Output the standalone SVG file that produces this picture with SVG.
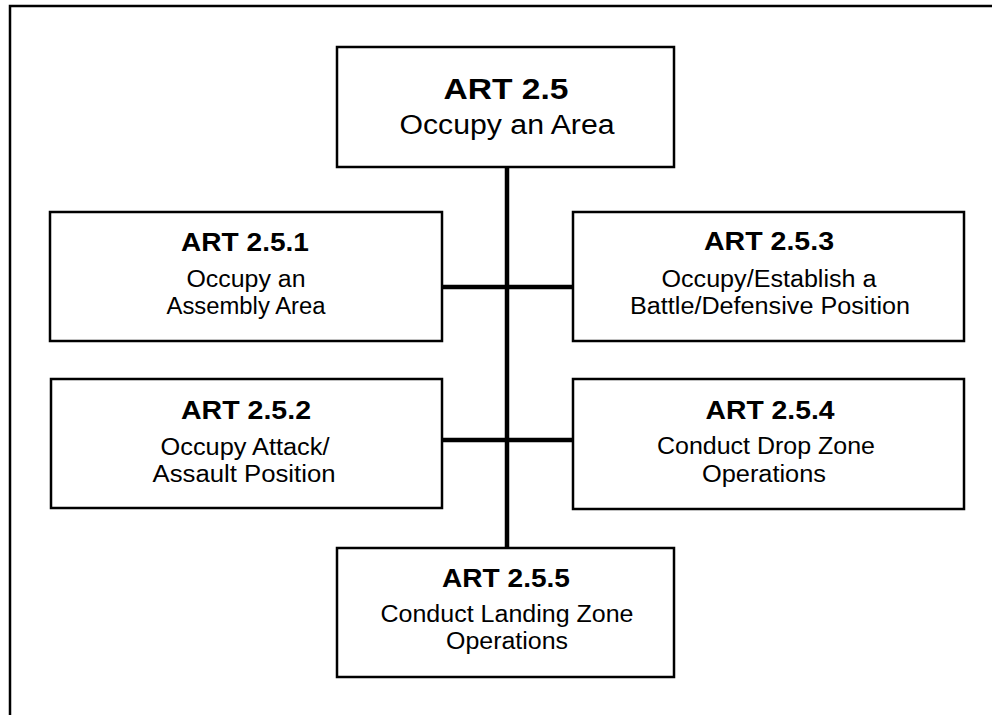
<svg xmlns="http://www.w3.org/2000/svg" width="992" height="715" viewBox="0 0 992 715">
<style>
  .box { fill: #ffffff; stroke: #000000; stroke-width: 2.5; }
  .frame { fill: none; stroke: #000000; stroke-width: 2.5; }
  .conn { fill: none; stroke: #000000; stroke-width: 4.5; }
  text { font-family: "Liberation Sans", Arial, Helvetica, sans-serif; fill: #000000; text-anchor: middle; }
  .t { font-weight: bold; font-size: 25px; }
  .b { font-size: 23px; }
  .tt { font-weight: bold; font-size: 30px; }
  .tb { font-size: 27px; }
</style>
<rect x="0" y="0" width="992" height="715" fill="#ffffff"/>
<path class="frame" d="M10,715 V6 H992"/>
<g id="connectors">
  <line class="conn" x1="507" y1="167" x2="507" y2="548"/>
  <line class="conn" x1="442" y1="287" x2="573" y2="287"/>
  <line class="conn" x1="442" y1="440" x2="573" y2="440"/>
</g>
<g id="art25">
  <rect class="box" x="337" y="47" width="337" height="120"/>
  <text class="tt" x="506" y="99" textLength="125" lengthAdjust="spacingAndGlyphs">ART 2.5</text>
  <text class="tb" x="507" y="134" textLength="215" lengthAdjust="spacingAndGlyphs">Occupy an Area</text>
</g>
<g id="art251">
  <rect class="box" x="50" y="212" width="392" height="129"/>
  <text class="t" x="245" y="251" textLength="128" lengthAdjust="spacingAndGlyphs">ART 2.5.1</text>
  <text class="b" x="246" y="287" textLength="119" lengthAdjust="spacingAndGlyphs">Occupy an</text>
  <text class="b" x="246" y="314" textLength="159" lengthAdjust="spacingAndGlyphs">Assembly Area</text>
</g>
<g id="art253">
  <rect class="box" x="573" y="212" width="391" height="129"/>
  <text class="t" x="769" y="250" textLength="130" lengthAdjust="spacingAndGlyphs">ART 2.5.3</text>
  <text class="b" x="769" y="287" textLength="215" lengthAdjust="spacingAndGlyphs">Occupy/Establish a</text>
  <text class="b" x="770" y="314" textLength="280" lengthAdjust="spacingAndGlyphs">Battle/Defensive Position</text>
</g>
<g id="art252">
  <rect class="box" x="51" y="379" width="391" height="129"/>
  <text class="t" x="246" y="419" textLength="130" lengthAdjust="spacingAndGlyphs">ART 2.5.2</text>
  <text class="b" x="245" y="455" textLength="169" lengthAdjust="spacingAndGlyphs">Occupy Attack/</text>
  <text class="b" x="244" y="482" textLength="183" lengthAdjust="spacingAndGlyphs">Assault Position</text>
</g>
<g id="art254">
  <rect class="box" x="573" y="379" width="391" height="130"/>
  <text class="t" x="770" y="419" textLength="129" lengthAdjust="spacingAndGlyphs">ART 2.5.4</text>
  <text class="b" x="766" y="454" textLength="218" lengthAdjust="spacingAndGlyphs">Conduct Drop Zone</text>
  <text class="b" x="764" y="482" textLength="124" lengthAdjust="spacingAndGlyphs">Operations</text>
</g>
<g id="art255">
  <rect class="box" x="337" y="548" width="337" height="129"/>
  <text class="t" x="506" y="587" textLength="128" lengthAdjust="spacingAndGlyphs">ART 2.5.5</text>
  <text class="b" x="507" y="622" textLength="253" lengthAdjust="spacingAndGlyphs">Conduct Landing Zone</text>
  <text class="b" x="507" y="649" textLength="122" lengthAdjust="spacingAndGlyphs">Operations</text>
</g>
</svg>
